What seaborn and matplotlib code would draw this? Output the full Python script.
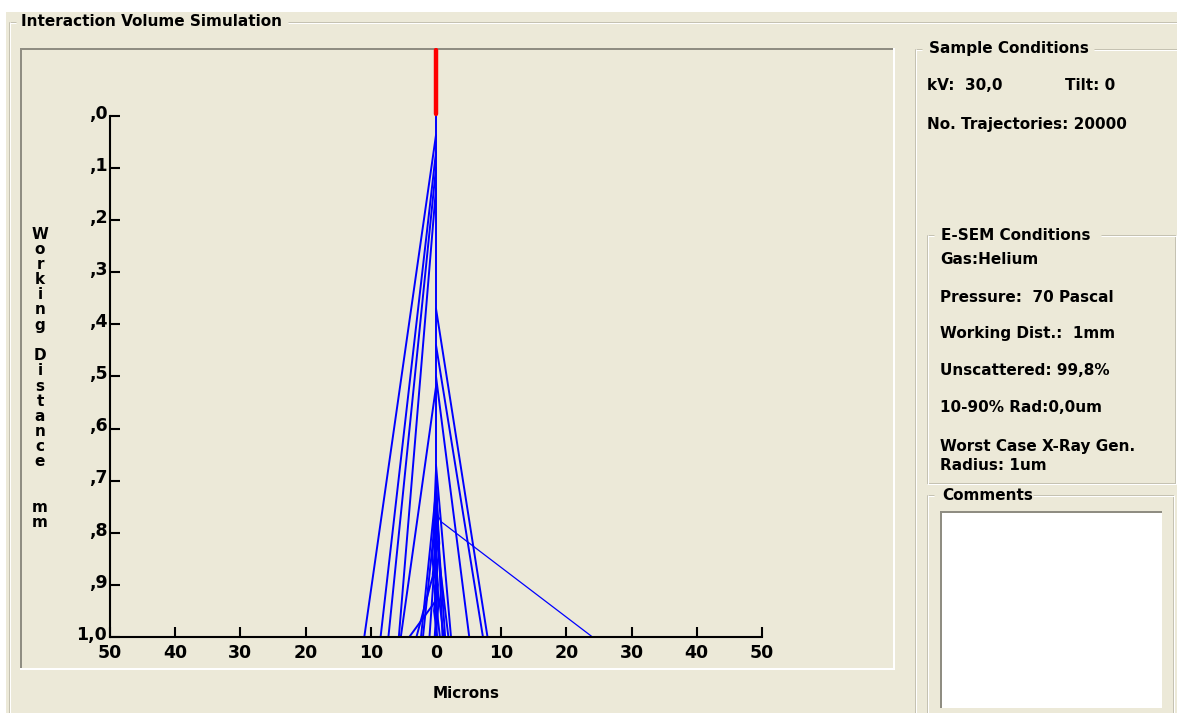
import numpy as np
import pandas as pd
import matplotlib
matplotlib.use("Agg")
import matplotlib.pyplot as plt
import matplotlib.transforms as mtransforms
import seaborn as sns
from matplotlib.patches import Rectangle
from matplotlib.lines import Line2D

# electron trajectories: lateral position (microns) and working distance (mm)
traj_x = [
    [0, 0],
    [0, -11.0], [0, -8.5], [0, -7.3], [0, -5.7], [0, -5.4],
    [0, -2.3], [0, -2.0], [0, -1.0], [0, -4.1], [0, -3.0],
    [0, 7.9], [0, 7.2], [0, 5.1], [0, 1.0], [0, 1.4], [0, 1.9], [0, 2.3],
    [0, -0.4, 0.3, -0.2], [0, 0.5, -0.3, 0.2], [0, -0.6, 0.4, 0.0],
    [0, 0.3, -0.5, 0.6], [0, -0.3, 0.6, 1.2],
]
traj_depth = [
    [0.0, 1.0],
    [0.037, 1.0], [0.07, 1.0], [0.10, 1.0], [0.14, 1.0], [0.52, 1.0],
    [0.72, 1.0], [0.76, 1.0], [0.82, 1.0], [0.93, 1.0], [0.86, 1.0],
    [0.37, 1.0], [0.44, 1.0], [0.50, 1.0], [0.70, 1.0], [0.74, 1.0], [0.80, 1.0], [0.67, 1.0],
    [0.68, 0.80, 0.90, 1.0], [0.72, 0.82, 0.95, 1.0], [0.75, 0.85, 0.93, 1.0],
    [0.70, 0.78, 0.88, 1.0], [0.78, 0.86, 0.94, 1.0],
]
long_x = [0, 0.8, 24.0]
long_depth = [0.76, 0.779, 1.0]
beam_x = [0, 0]
beam_depth = [-0.127, -0.004]

x_ticks = [-50, -40, -30, -20, -10, 0, 10, 20, 30, 40, 50]
x_labels = ["50", "40", "30", "20", "10", "0", "10", "20", "30", "40", "50"]
y_ticks = [0.0, 0.1, 0.2, 0.3, 0.4, 0.5, 0.6, 0.7, 0.8, 0.9, 1.0]
y_labels = [",0", ",1", ",2", ",3", ",4", ",5", ",6", ",7", ",8", ",9", "1,0"]

sample_lines = ["No. Trajectories: 20000"]
esem_lines = ["Gas:Helium", "Pressure:  70 Pascal", "Working Dist.:  1mm",
              "Unscattered: 99,8%", "10-90% Rad:0,0um"]
ylabel_text = "Working Distance  mm"

rows = []
for i, (xs, ds) in enumerate(zip(traj_x, traj_depth)):
    for x, d in zip(xs, ds):
        rows.append({"traj": i, "x": x, "depth": d})
traj_df = pd.DataFrame(rows)

sns.set_style("ticks")
plt.rcParams["font.family"] = ["DejaVu Sans"]
plt.rcParams["font.weight"] = "bold"
plt.rcParams["text.color"] = "black"

W, H = 1177, 713
BG = "#ECE9D8"
GRAY = "#C5C2B2"
DARK = "#8F8D82"

fig = plt.figure(figsize=(W / 100, H / 100), dpi=100)
fig.patch.set_facecolor("white")


def fx(x):
    return x / W


def fy(y):
    return 1 - y / H


def rect(x0, y0, x1, y1, **kw):
    fig.add_artist(Rectangle((fx(x0), fy(y1)), (x1 - x0) / W, (y1 - y0) / H,
                             transform=fig.transFigure, **kw))


def seg(x0, y0, x1, y1, color, lw=1.0):
    fig.add_artist(Line2D([fx(x0), fx(x1)], [fy(y0), fy(y1)], transform=fig.transFigure,
                          color=color, lw=lw * 0.72, solid_capstyle="butt", zorder=2))


def groupbox(x0, y0, x1, y1, gap0, gap1):
    for c, o in [(GRAY, 0), ("white", 1)]:
        seg(x0 + o, y0 + o, gap0, y0 + o, c)
        seg(gap1, y0 + o, x1, y0 + o, c)
        seg(x0 + o, y0, x0 + o, y1, c)
        seg(x1 - 1 + o, y0, x1 - 1 + o, y1, c)
        seg(x0, y1 - 1 + o, x1, y1 - 1 + o, c)


# window background
rect(6, 12, W, H, facecolor=BG, edgecolor="none", zorder=0)

# group frames
groupbox(9, 22, 1190, 730, 16, 288)
groupbox(915, 49, 1190, 730, 922, 1094)
groupbox(927, 235, 1176, 484, 934, 1101)
groupbox(927, 495, 1174, 730, 934, 1033)

# sunken plot panel
seg(20, 49, 894, 49, DARK, 2)
seg(21, 48, 21, 669, DARK, 2)
seg(20, 669, 895, 669, "white", 2)
seg(894, 48, 894, 669, "white", 2)

# comments box
rect(940, 511, 1162, 708, facecolor="white", edgecolor="none", zorder=1)
seg(940, 512, 1162, 512, DARK, 2)
seg(941, 511, 941, 708, DARK, 2)

# plot axes: x -50..50 -> px 110..762, depth 1.0 at px 637, -0.13 at px 48
ax = fig.add_axes([fx(110), fy(637), (762 - 110) / W, (637 - 48) / H])
ax.set_zorder(5)
ax.patch.set_visible(False)

sns.lineplot(data=traj_df, x="x", y="depth", units="traj", estimator=None, sort=False,
             color="#0000FF", lw=1.4, ax=ax)
sns.lineplot(x=long_x, y=long_depth, sort=False, estimator=None, color="#0000FF", lw=0.9, ax=ax)
sns.lineplot(x=beam_x, y=beam_depth, sort=False, estimator=None, color="#FF0000", lw=3.2, ax=ax)

ax.set_xlim(-50, 50)
ax.set_ylim(1.0, -0.13)
ax.set_xlabel("")
ax.set_ylabel("")
ax.set_xticks(x_ticks, x_labels)
ax.set_yticks(y_ticks, y_labels)
ax.tick_params(axis="both", direction="in", length=7, width=1.5, color="black",
               labelsize=12.5, labelcolor="black")
ax.tick_params(axis="x", pad=5)
ax.tick_params(axis="y", pad=2)
for lab in ax.get_xticklabels() + ax.get_yticklabels():
    lab.set_fontweight("bold")
# y labels sit a little above their ticks, as in the original
lift = mtransforms.ScaledTranslation(0, 3 / 72, fig.dpi_scale_trans)
for lab in ax.get_yticklabels():
    lab.set_transform(lab.get_transform() + lift)
for s in ["top", "right"]:
    ax.spines[s].set_visible(False)
for s in ["left", "bottom"]:
    ax.spines[s].set_linewidth(1.5)
    ax.spines[s].set_color("black")
ax.spines["left"].set_bounds(0.0, 1.0)
ax.grid(False)

# texts
FS = 11
fig.text(fx(21), fy(22), "Interaction Volume Simulation", fontsize=FS, fontweight="bold",
         ha="left", va="center")
fig.text(fx(929), fy(48), "Sample Conditions", fontsize=FS, fontweight="bold", ha="left", va="center")
fig.text(fx(927), fy(86), "kV:  30,0", fontsize=FS, fontweight="bold", ha="left", va="center")
fig.text(fx(1065), fy(86), "Tilt: 0", fontsize=FS, fontweight="bold", ha="left", va="center")
fig.text(fx(927), fy(124), sample_lines[0], fontsize=FS, fontweight="bold", ha="left", va="center")

fig.text(fx(941), fy(235), "E-SEM Conditions", fontsize=FS, fontweight="bold", ha="left", va="center")
for i, t in enumerate(esem_lines):
    fig.text(fx(940), fy(260 + i * 37), t, fontsize=FS, fontweight="bold", ha="left", va="center")
fig.text(fx(940), fy(447), "Worst Case X-Ray Gen.", fontsize=FS, fontweight="bold", ha="left", va="center")
fig.text(fx(940), fy(466), "Radius: 1um", fontsize=FS, fontweight="bold", ha="left", va="center")
fig.text(fx(942), fy(495), "Comments", fontsize=FS, fontweight="bold", ha="left", va="center")

fig.text(fx(466), fy(693), "Microns", fontsize=FS, fontweight="bold", ha="center", va="center")

for i, ch in enumerate(ylabel_text):
    if ch != " ":
        fig.text(fx(40), fy(234 + i * 15.2), ch, fontsize=FS, fontweight="bold",
                 ha="center", va="center")

fig.savefig("out.png", dpi=100, facecolor=fig.get_facecolor())
